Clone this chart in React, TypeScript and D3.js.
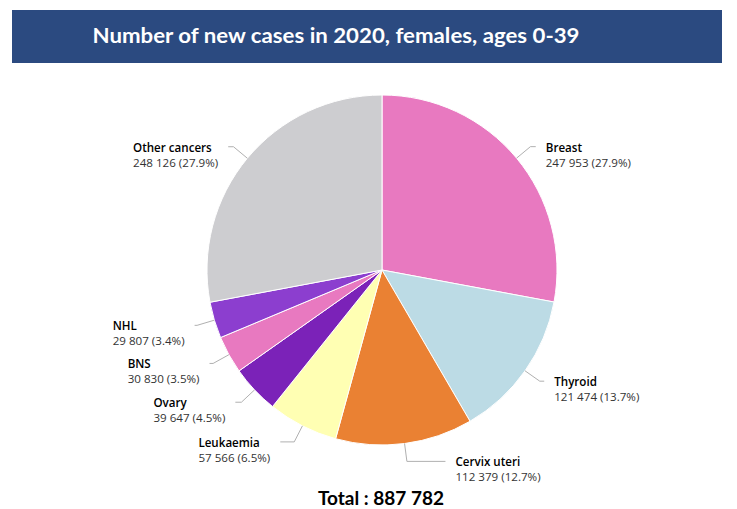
import React, { useEffect, useRef } from "react";
import * as d3 from "d3";

const categories = ["Breast", "Thyroid", "Cervix uteri", "Leukaemia", "Ovary", "BNS", "NHL", "Other cancers"];
const cases = [247953, 121474, 112379, 57566, 39647, 30830, 29807, 248126];
const percents = ["27.9%", "13.7%", "12.7%", "6.5%", "4.5%", "3.5%", "3.4%", "27.9%"];
const colors = ["#e879c0", "#bcdbe5", "#ea8133", "#ffffb3", "#7b22b8", "#e879c0", "#8c3ecf", "#cdcdd0"];
const titleText = "Number of new cases in 2020, females, ages 0-39";
const totalText = "Total : 887 782";

const fmt = (v: number) => d3.format(",")(v).replace(/,/g, " ");

const App = () => {
  const ref = useRef<SVGSVGElement>(null);

  useEffect(() => {
    const width = 737;
    const height = 509;
    const cx = 382;
    const cy = 270;
    const r = 175;
    const elbowR = 193;
    const labelR = 205;

    const svg = d3.select(ref.current).attr("width", width).attr("height", height);
    svg.selectAll("*").remove();

    // title bar
    svg.append("rect").attr("x", 12).attr("y", 10).attr("width", 710).attr("height", 53).attr("fill", "#2b4a80");
    svg
      .append("text")
      .attr("x", 336)
      .attr("y", 43)
      .attr("text-anchor", "middle")
      .attr("font-family", "Lato, 'Open Sans', sans-serif")
      .attr("font-weight", "bold")
      .attr("font-size", 20)
      .attr("fill", "#fff")
      .attr("textLength", 487)
      .attr("lengthAdjust", "spacingAndGlyphs")
      .text(titleText);

    const data = categories.map((c, i) => ({ name: c, value: cases[i], pct: percents[i], color: colors[i] }));

    const pie = d3
      .pie<any>()
      .value((d) => d.value)
      .sort(null);
    const arcs = pie(data);
    const arc = d3.arc<any>().innerRadius(0).outerRadius(r);

    const g = svg.append("g").attr("transform", `translate(${cx},${cy})`);
    g.selectAll("path")
      .data(arcs)
      .join("path")
      .attr("d", arc)
      .attr("fill", (d) => d.data.color)
      .attr("stroke", "#fff")
      .attr("stroke-width", 1);

    // labels and connectors
    arcs.forEach((a) => {
      const mid = (a.startAngle + a.endAngle) / 2;
      const sx = Math.sin(mid);
      const sy = -Math.cos(mid);
      const right = sx >= 0;
      const ex = sx * r;
      const ey = sy * r;
      const bx = sx * elbowR;
      const by = sy * elbowR;
      const dx = Math.sqrt(Math.max(0, labelR * labelR - by * by));
      const lx = right ? dx : -dx;
      const lineEnd = right ? lx - 10 : lx + 10;
      const endX = right ? Math.max(lineEnd, bx) : Math.min(lineEnd, bx);

      g.append("path")
        .attr("d", `M${ex},${ey}L${bx},${by}L${endX},${by}`)
        .attr("fill", "none")
        .attr("stroke", "#b0b0b0")
        .attr("stroke-width", 1);

      const t = g
        .append("text")
        .attr("font-family", "'Open Sans', sans-serif")
        .attr("font-size", 11.6);
      t.append("tspan").attr("x", 0).attr("y", by + 5).attr("font-weight", 600).attr("fill", "#000").text(a.data.name);
      t.append("tspan")
        .attr("x", 0)
        .attr("y", by + 20)
        .attr("fill", "#333")
        .text(`${fmt(a.data.value)} (${a.data.pct})`);

      const bb = (t.node() as SVGTextElement).getBBox();
      const tx = right ? lx : lx - bb.width;
      t.selectAll("tspan").attr("x", tx);
    });

    // total
    svg
      .append("text")
      .attr("x", 381)
      .attr("y", 505)
      .attr("text-anchor", "middle")
      .attr("font-family", "Lato, 'Open Sans', sans-serif")
      .attr("font-weight", "bold")
      .attr("font-size", 19)
      .attr("fill", "#000")
      .text(totalText);
  }, []);

  return <svg ref={ref} style={{ position: "absolute", left: 0, top: 0 }}></svg>;
};

export default App;
